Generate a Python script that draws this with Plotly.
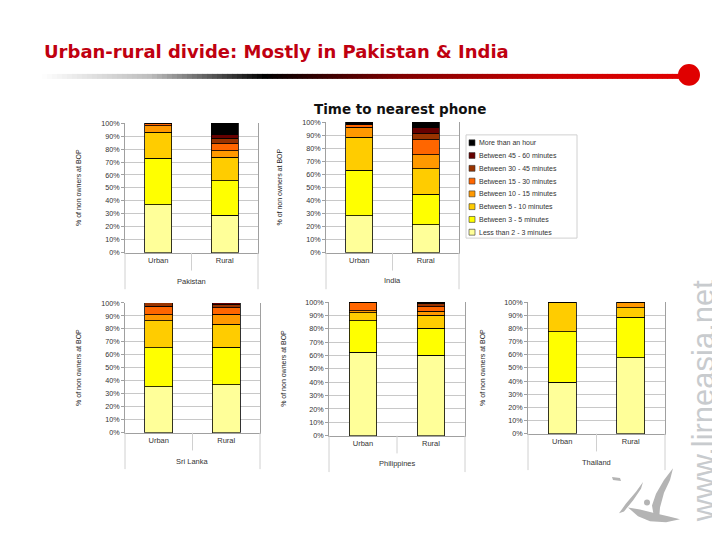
import plotly.graph_objects as go

# page has an 8px body margin; figure is sized so that it fills the 720x540 window
OFF = 8
W, H = 720 - OFF, 540 - OFF

categories = ["Urban", "Rural"]
series_names = [
    "Less than 2 - 3 minutes",
    "Between 3 - 5 minutes",
    "Between 5 - 10 minutes",
    "Between 10 - 15 minutes",
    "Between 15 - 30 minutes",
    "Between 30 - 45 minutes",
    "Between 45 - 60 minutes",
    "More than an hour",
]
colors = ["#FFFF99", "#FFFF00", "#FFCC00", "#FF9900", "#FF6600", "#993300", "#660000", "#000000"]

countries = ["Pakistan", "India", "Sri Lanka", "Philippines", "Thailand"]
# shares (%) per time band, bottom -> top
pakistan_urban = [37, 36, 20, 5, 2, 0, 0, 0]
pakistan_rural = [29, 26.5, 18, 5, 5.5, 4.5, 2.5, 9]
india_urban = [28.5, 34.5, 25.5, 7.5, 2.5, 0, 0, 1.5]
india_rural = [21.5, 23.5, 19.5, 10.5, 11.5, 4.5, 4.5, 4.5]
srilanka_urban = [35.5, 30, 21, 4.5, 6.5, 2.5, 0, 0]
srilanka_rural = [37, 29, 17.5, 8, 5, 2, 1.5, 0]
philippines_urban = [62.5, 23.5, 6, 1.5, 6.5, 0, 0, 0]
philippines_rural = [60, 20.5, 9.5, 3, 3.5, 2.5, 1, 0]
thailand_urban = [39, 38.5, 22.5, 0, 0, 0, 0, 0]
thailand_rural = [57.5, 31, 7, 4.5, 0, 0, 0, 0]

data = {
    "Pakistan": (pakistan_urban, pakistan_rural),
    "India": (india_urban, india_rural),
    "Sri Lanka": (srilanka_urban, srilanka_rural),
    "Philippines": (philippines_urban, philippines_rural),
    "Thailand": (thailand_urban, thailand_rural),
}

y_ticks = list(range(0, 101, 10))
y_tick_labels = [f"{v}%" for v in y_ticks]

# panel layout in window pixels: x0, x1, ytop, ybottom, y-title x, country label y
panels = {
    "Pakistan": (125, 258, 121, 253, 79, 282),
    "India": (326, 459, 120, 253, 279, 281),
    "Sri Lanka": (125, 260, 304, 436, 79, 465),
    "Philippines": (329, 465, 303, 439, 284, 467),
    "Thailand": (528, 665, 303, 437, 483, 466),
}


def fx(px):
    return (px - OFF) / W


def fy(py):
    return 1 - (py - OFF) / H


fig = go.Figure()
shapes = []
annotations = []
layout_axes = {}
FONT = "Liberation Sans, Arial, sans-serif"


def ann(text, x, y, size, color, family=FONT, xanchor="center", yanchor="middle", angle=0):
    annotations.append(dict(text=text, x=fx(x), y=fy(y), xref="paper", yref="paper",
                            xanchor=xanchor, yanchor=yanchor, textangle=angle,
                            showarrow=False, font=dict(size=size, color=color, family=family)))


for i, c in enumerate(countries):
    n = i + 1
    xa = "x" if n == 1 else f"x{n}"
    ya = "y" if n == 1 else f"y{n}"
    urban, rural = data[c]
    for k, name in enumerate(series_names):
        fig.add_trace(go.Bar(
            x=categories, y=[urban[k], rural[k]], name=name,
            marker=dict(color=colors[k], line=dict(color="#000000", width=0.8)),
            width=0.41, xaxis=xa, yaxis=ya, showlegend=False,
        ))
    x0, x1, yt, yb, ytx, cly = panels[c]
    layout_axes["xaxis" if n == 1 else f"xaxis{n}"] = dict(
        domain=[fx(x0), fx(x1)], anchor=ya, range=[-0.5, 1.5],
        showline=True, linecolor="#a0a0a0", linewidth=1, ticks="",
        showgrid=False, tickfont=dict(size=7.5, color="#333333", family=FONT),
        fixedrange=True,
    )
    layout_axes["yaxis" if n == 1 else f"yaxis{n}"] = dict(
        domain=[fy(yb), fy(yt)], anchor=xa, range=[0, 100],
        tickmode="array", tickvals=y_ticks, ticktext=y_tick_labels,
        showgrid=True, gridcolor="#c8c8c8",
        gridwidth=1, showline=True, linecolor="#a0a0a0", mirror=True,
        ticks="outside", ticklen=3, tickcolor="#a0a0a0",
        tickfont=dict(size=7.2, color="#333333", family=FONT), zeroline=False,
        fixedrange=True,
    )
    xm = (x0 + x1) / 2
    for xx, ext in ((x0, 37), (xm, 18), (x1, 37)):
        shapes.append(dict(type="line", xref="paper", yref="paper",
                           x0=fx(xx), x1=fx(xx), y0=fy(yb), y1=fy(yb + ext),
                           line=dict(color="#d0d0d0", width=1)))
    ann(c, xm, cly, 7.5, "#333333")
    ann("% of non owners at BOP", ytx, (yt + yb) / 2, 7, "#222222", angle=-90)

# legend (drawn manually to match the compact spacing)
shapes.append(dict(type="rect", xref="paper", yref="paper", x0=fx(466), x1=fx(577),
                   y0=fy(238), y1=fy(133), line=dict(color="#d0d0d0", width=1)))
for j, k in enumerate(range(len(series_names) - 1, -1, -1)):
    yy = 141 + 13 * j
    shapes.append(dict(type="rect", xref="paper", yref="paper", x0=fx(469), x1=fx(475),
                       y0=fy(yy + 3), y1=fy(yy - 3), fillcolor=colors[k],
                       line=dict(color="#333333", width=0.6)))
    ann(series_names[k], 477, yy, 7, "#333333", xanchor="left")

# header
ann("<b>Urban-rural divide: Mostly in Pakistan &amp; India</b>", 42, 48, 18, "#C00010",
    family="DejaVu Sans", xanchor="left")
ann("<b>Time to nearest phone</b>", 400, 107, 13.5, "#111111", family="DejaVu Sans")

stops = [(42, (255, 255, 255)), (150, (190, 190, 190)), (265, (0, 0, 0)),
         (400, (128, 0, 0)), (560, (204, 0, 0)), (682, (226, 0, 0))]
nseg = 128
for s in range(nseg):
    xa_ = 42 + (682 - 42) * s / nseg
    xb_ = 42 + (682 - 42) * (s + 1) / nseg
    xmid = (xa_ + xb_) / 2
    for q in range(len(stops) - 1):
        if stops[q][0] <= xmid <= stops[q + 1][0]:
            t = (xmid - stops[q][0]) / (stops[q + 1][0] - stops[q][0])
            col = tuple(int(stops[q][1][m] + (stops[q + 1][1][m] - stops[q][1][m]) * t) for m in range(3))
            break
    shapes.append(dict(type="line", xref="paper", yref="paper", x0=fx(xa_), x1=fx(xb_ + 0.6),
                       y0=fy(73.5), y1=fy(73.5), line=dict(color=f"rgb{col}", width=5)))
shapes.append(dict(type="circle", xref="paper", yref="paper", x0=fx(678), x1=fx(700),
                   y0=fy(83), y1=fy(61), fillcolor="#E00000", line=dict(width=0)))

# watermark and logo
ann("www.lirneasia.net", 703, 404, 31, "#c8cbce", angle=-90)


def pp(points):
    return "M " + " L ".join(f"{fx(a)},{fy(b)}" for a, b in points) + " Z"


LOGO = "#b4b4b4"
# main blade
shapes.append(dict(type="path", xref="paper", yref="paper",
                   path=pp([(673, 472), (664, 484), (656, 498), (652, 510), (654, 522), (659, 525),
                            (660, 512), (664, 497), (670, 484)]),
                   fillcolor=LOGO, line=dict(width=0)))
# lower swoosh
shapes.append(dict(type="path", xref="paper", yref="paper",
                   path=pp([(628, 512), (640, 514), (655, 518), (668, 521), (680, 524),
                            (666, 527), (650, 526), (638, 521)]),
                   fillcolor=LOGO, line=dict(width=0)))
# left stroke
shapes.append(dict(type="path", xref="paper", yref="paper",
                   path=pp([(643, 486), (636, 496), (626, 508), (619, 518), (624, 516),
                            (633, 505), (641, 493)]),
                   fillcolor=LOGO, line=dict(width=0)))
# small dash
shapes.append(dict(type="path", xref="paper", yref="paper",
                   path=pp([(612, 481), (620, 482), (621, 485), (613, 484)]),
                   fillcolor=LOGO, line=dict(width=0)))
# dot
shapes.append(dict(type="circle", xref="paper", yref="paper", x0=fx(644), x1=fx(650),
                   y0=fy(510), y1=fy(504), fillcolor=LOGO, line=dict(width=0)))

fig.update_layout(
    width=W, height=H, margin=dict(l=0, r=0, t=0, b=0),
    paper_bgcolor="white", plot_bgcolor="white", barmode="stack",
    showlegend=False, shapes=shapes, annotations=annotations,
    font=dict(family=FONT), **layout_axes,
)

fig.write_html("out.html")
